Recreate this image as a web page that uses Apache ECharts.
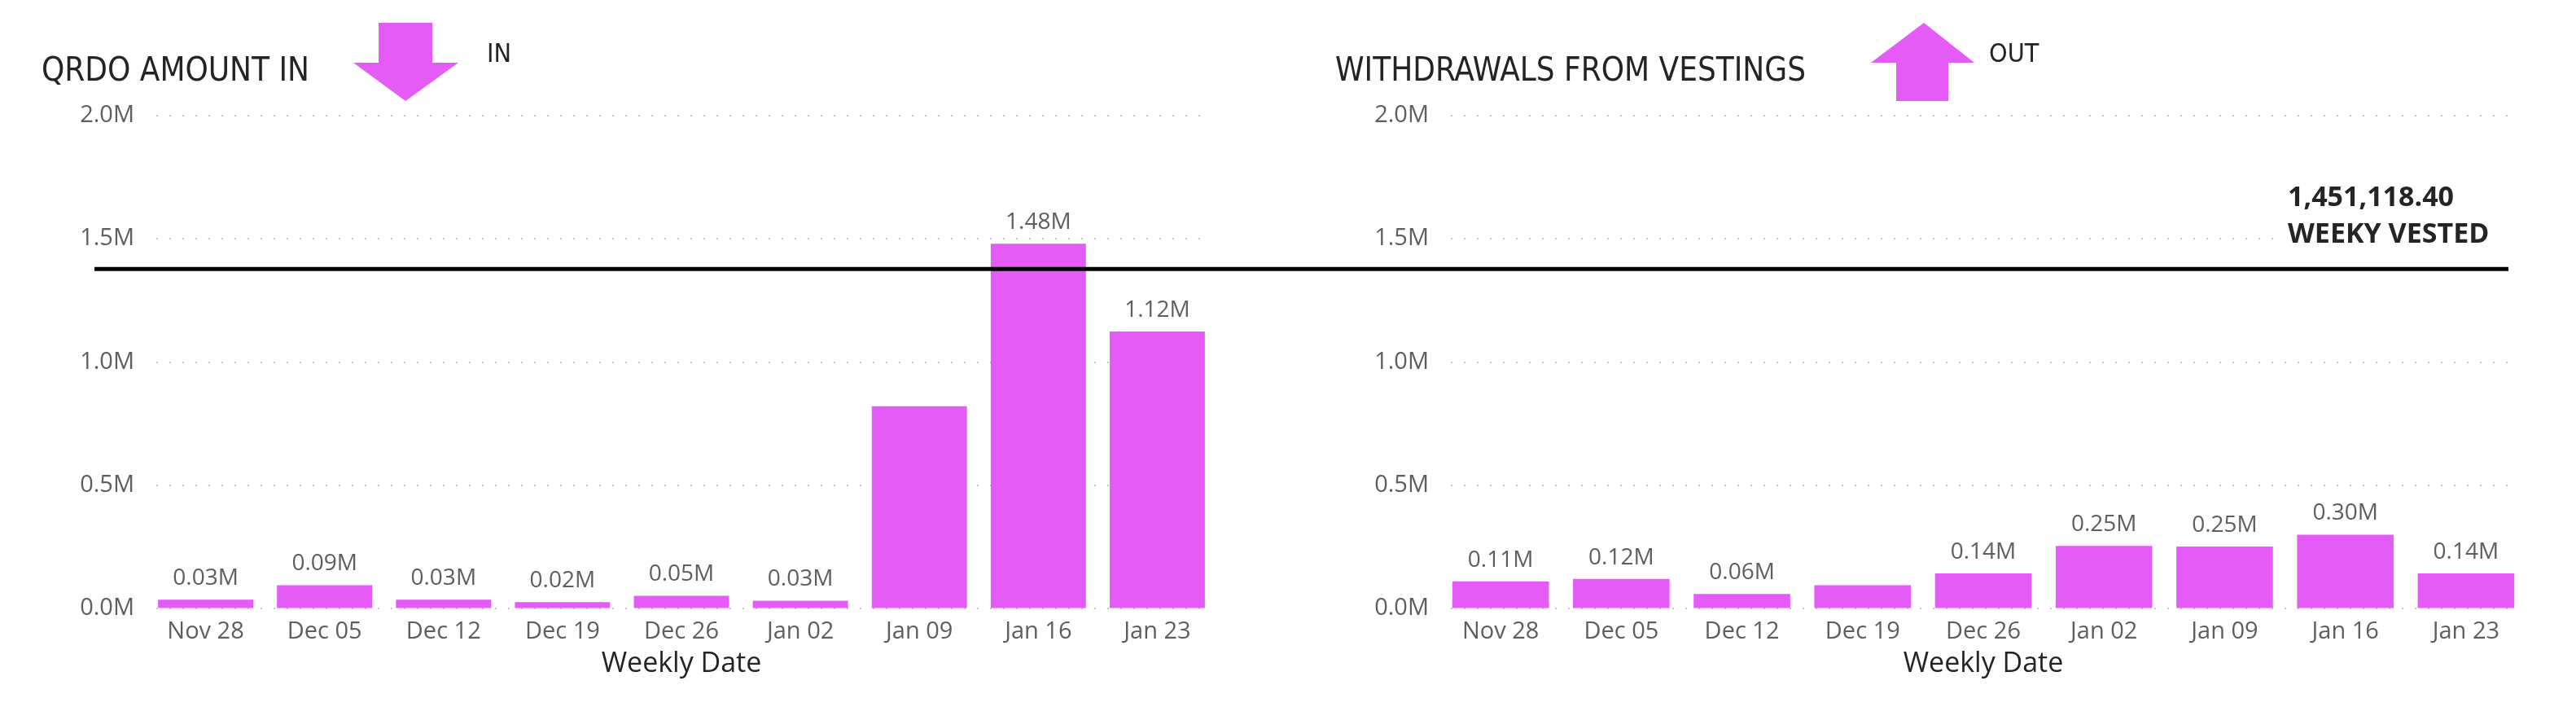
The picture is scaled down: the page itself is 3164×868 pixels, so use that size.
<!DOCTYPE html>
<html>
<head>
<meta charset="utf-8">
<title>QRDO weekly in / out</title>
<script src="https://cdn.jsdelivr.net/npm/echarts@6/dist/echarts.min.js"></script>
<style>
  html, body { margin: 0; padding: 0; background: #fff; }
  #chart { width: 3164px; height: 868px; }
</style>
</head>
<body>
<div id="chart"></div>
<script>
// weekly dates (x axis)
const categories = ["Nov 28", "Dec 05", "Dec 12", "Dec 19", "Dec 26", "Jan 02", "Jan 09", "Jan 16", "Jan 23"];
// QRDO amount in, per week
const amountIn = [34000, 93000, 34000, 24000, 50000, 30000, 820000, 1480000, 1123000];
// withdrawals from vestings, per week
const withdrawals = [108000, 118000, 57000, 93000, 141000, 252000, 250000, 298000, 141000];
// labels Power BI left out
const hiddenIn = ["Jan 09"];
const hiddenOut = ["Dec 19"];
// value axis ticks
const yMin = 0;
const yMax = 2000000;
const yStep = 500000;
// weekly vested reference line
const vestedLevel = 1377000;
const vestedText = ["1,451,118.40", "WEEKY VESTED"];

const BAR = "#E55BF8";
const GREY = "#605E5C";
const DARK = "#252423";
const FONT = "'Open Sans', 'Noto Sans', sans-serif";
const TITLE_FONT = "'DejaVu Sans Condensed', Roboto, sans-serif";

let chart = echarts.init(document.getElementById("chart"));

function toM(v, d) {
  return (v / 1e6).toFixed(d) + "M";
}

function barData(values, hidden) {
  return values.map(function (v, i) {
    return { value: v, label: { show: hidden.indexOf(categories[i]) < 0 } };
  });
}

function barXAxis(idx) {
  return {
    type: "category",
    gridIndex: idx,
    data: categories,
    axisLine: { show: false },
    axisTick: { show: false },
    axisLabel: { interval: 0, margin: 15, color: GREY, fontSize: 29, fontFamily: FONT },
    name: "Weekly Date",
    nameLocation: "middle",
    nameGap: 52,
    nameTextStyle: { color: DARK, fontSize: 34, fontFamily: FONT }
  };
}

function gridYAxis(idx, show) {
  return {
    type: "value",
    gridIndex: idx,
    min: yMin,
    max: yMax,
    interval: yStep,
    axisLine: { show: false },
    axisTick: { show: false },
    axisLabel: {
      show: show,
      margin: 27,
      color: GREY,
      fontSize: 29,
      fontFamily: FONT,
      formatter: function (v) { return toM(v, 1); }
    },
    splitLine: {
      show: show,
      lineStyle: { type: [2, 14], width: 2, color: "#C8C6C4" }
    }
  };
}

let option = {
  backgroundColor: "#fff",
  animation: false,
  grid: [
    // bars
    { left: 179.5, top: 142, width: 1315, height: 604.5 },
    { left: 1769, top: 142, width: 1334, height: 604.5 },
    // dotted gridlines + tick labels
    { left: 192, top: 142, width: 1288, height: 604.5 },
    { left: 1782, top: 142, width: 1306, height: 604.5 }
  ],
  xAxis: [
    barXAxis(0),
    barXAxis(1),
    { type: "value", gridIndex: 2, min: 0, max: 1, show: false },
    { type: "value", gridIndex: 3, min: 0, max: 1, show: false }
  ],
  yAxis: [
    gridYAxis(0, false),
    gridYAxis(1, false),
    gridYAxis(2, true),
    gridYAxis(3, true)
  ],
  series: [
    {
      type: "bar",
      xAxisIndex: 0,
      yAxisIndex: 0,
      barCategoryGap: "20%",
      itemStyle: { color: BAR },
      label: {
        position: "top",
        distance: 12,
        color: GREY,
        fontSize: 28,
        fontFamily: FONT,
        formatter: function (p) { return toM(p.value, 2); }
      },
      data: barData(amountIn, hiddenIn)
    },
    {
      type: "bar",
      xAxisIndex: 1,
      yAxisIndex: 1,
      barCategoryGap: "20%",
      itemStyle: { color: BAR },
      label: {
        position: "top",
        distance: 12,
        color: GREY,
        fontSize: 28,
        fontFamily: FONT,
        formatter: function (p) { return toM(p.value, 2); }
      },
      data: barData(withdrawals, hiddenOut)
    }
  ]
};

chart.setOption(option);

// reference line goes across both panels
let lineY = chart.convertToPixel({ yAxisIndex: 0 }, vestedLevel);

chart.setOption({
  graphic: [
    {
      type: "text", left: 51, top: 69, z: 100,
      style: { text: "QRDO AMOUNT IN", fill: DARK, fontSize: 40, fontFamily: TITLE_FONT }
    },
    {
      type: "polygon", z: 100,
      shape: { points: [[465, 28], [531, 28], [531, 77], [563, 77], [498, 124], [434, 77], [465, 77]] },
      style: { fill: BAR }
    },
    {
      type: "text", left: 598, top: 52, z: 100,
      style: { text: "IN", fill: DARK, fontSize: 32, fontFamily: TITLE_FONT }
    },
    {
      type: "text", left: 1640, top: 69, z: 100,
      style: { text: "WITHDRAWALS FROM VESTINGS", fill: DARK, fontSize: 40, fontFamily: TITLE_FONT }
    },
    {
      type: "polygon", z: 100,
      shape: { points: [[2363, 28], [2425, 77], [2393, 77], [2393, 124], [2329, 124], [2329, 77], [2298, 77]] },
      style: { fill: BAR }
    },
    {
      type: "text", left: 2443, top: 52, z: 100,
      style: { text: "OUT", fill: DARK, fontSize: 32, fontFamily: TITLE_FONT }
    },
    {
      type: "rect", z: 99,
      shape: { x: 2800, y: 215, width: 300, height: 100 },
      style: { fill: "#fff" }
    },
    {
      type: "text", left: 2810, top: 226, z: 100,
      style: { text: vestedText[0], fill: DARK, fontSize: 34, fontWeight: "bold", fontFamily: FONT }
    },
    {
      type: "text", left: 2810, top: 271, z: 100,
      style: { text: vestedText[1], fill: DARK, fontSize: 34, fontWeight: "bold", fontFamily: FONT }
    },
    {
      type: "line", z: 101,
      shape: { x1: 116, y1: lineY, x2: 3081, y2: lineY },
      style: { stroke: "#000", lineWidth: 5 }
    }
  ]
});
</script>
</body>
</html>
